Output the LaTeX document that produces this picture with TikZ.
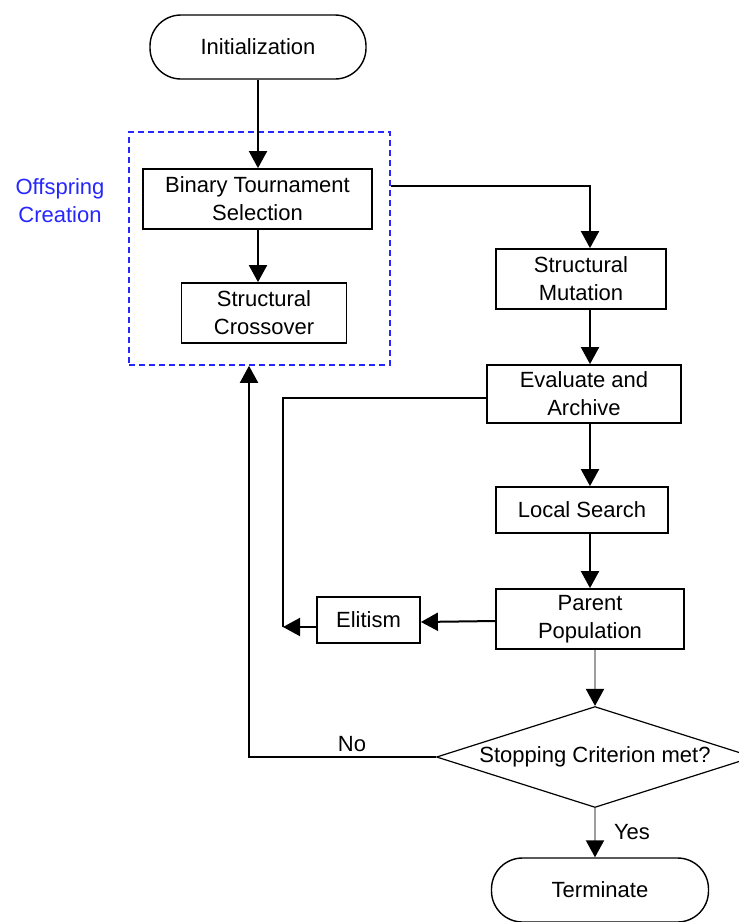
\documentclass[tikz,border=0pt]{standalone}
\usepackage{fontspec}
\setmainfont{Liberation Sans}
\usetikzlibrary{arrows.meta,shapes.geometric}
\begin{document}
\begin{tikzpicture}[x=1pt,y=-1pt,
  every node/.style={font=\fontsize{22}{28}\selectfont, align=center, inner sep=0pt},
  procbox/.style={draw=black, line width=1.8pt, minimum width=#1},
  terminal/.style={draw=black, line width=1.4pt, rounded corners=31pt, minimum height=64pt, minimum width=216pt},
  decision/.style={draw=black, line width=1.2pt, shape=diamond, aspect=3.14, inner sep=2.6pt},
  group/.style={draw=blue!85!white, dashed, dash pattern=on 6pt off 4pt, line width=1.6pt},
  link/.style={line width=2pt, draw=black},
  arr/.style={link, -{Triangle[width=18pt,length=17pt,color=black]}},
  greyarr/.style={arr, draw=black!38}
]
\useasboundingbox (0,0) rectangle (739,922);

% process column
\coordinate (col) at (590,0);

% nodes
\node[terminal] (init) at (258,47) {Initialization};
\node[group, minimum width=261pt, minimum height=233pt] (grp) at (259.5,248.5) {};
\node[font=\fontsize{22}{28}\selectfont, text=blue!85!white] (lbl) at (60,201) {Offspring\\Creation};
\node[procbox=229pt, minimum height=60pt] (bts) at (257.5,199) {Binary Tournament\\Selection};
\node[procbox=165pt, minimum height=60pt] (sc) at (264,313) {Structural\\Crossover};
\node[procbox=170pt, minimum height=60pt] (sm) at (581,279) {Structural\\Mutation};
\node[procbox=194pt, minimum height=58pt] (ea) at (584,394) {Evaluate and\\Archive};
\node[procbox=172pt, minimum height=46pt] (ls) at (582,510) {Local Search};
\node[procbox=188pt, minimum height=60pt] (pp) at (590,619) {Parent\\Population};
\node[procbox=103pt, minimum height=46pt] (el) at (368.5,620) {Elitism};
\node[decision] (dec) at (595,757) {Stopping Criterion met?};
\node[terminal, minimum width=217pt] (term) at (600,890) {Terminate};

\coordinate (elbow) at (283,627);

% connectors
\draw[arr] (init.south) -- (init.south |- bts.north);
\draw[arr] (bts.south -| init.south) -- (init.south |- sc.north);
\draw[arr] ([yshift=-55pt]grp.north east) -| (col |- sm.north);
\draw[arr] (col |- sm.south) -- (col |- ea.north);
\draw[arr] (col |- ea.south) -- (col |- ls.north);
\draw[arr] (col |- ls.south) -- (col |- pp.north);
\draw[link] ([yshift=-4pt]ea.west) -| (elbow);
\draw[arr] ([yshift=-2pt]pp.west) -- ([yshift=-2pt]el.east);
\draw[arr] (el.west |- elbow) -- (elbow);
\draw[greyarr] (dec.north |- pp.south) -- (dec.north);
\draw[greyarr] (dec.south) -- (dec.south |- term.north);
\draw[arr] (dec.west) -| ([xshift=-10.5pt]grp.south);

% branch labels
\node (no) at (352,744) {No};
\node (yes) at (632,832) {Yes};
\end{tikzpicture}
\end{document}
